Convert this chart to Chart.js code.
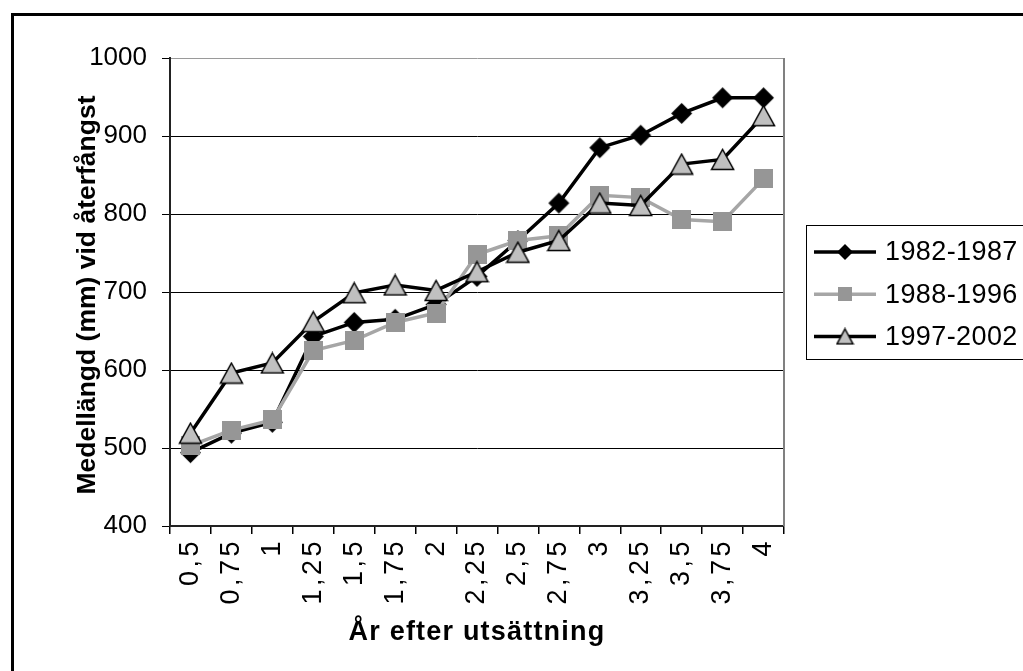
<!DOCTYPE html>
<html><head><meta charset="utf-8">
<script src="https://cdn.jsdelivr.net/npm/chart.js@4/dist/chart.umd.min.js"></script>
<style>html,body{margin:0;padding:0;background:#fff;overflow:hidden}#wrap{position:absolute;left:0;top:0;width:1023px;height:671px}</style>
</head><body><div id="wrap"><canvas id="c" width="1023" height="671"></canvas></div>
<script>
const categories = ['0,5','0,75','1','1,25','1,5','1,75','2','2,25','2,5','2,75','3','3,25','3,5','3,75','4'];
const seriesNames = ['1982-1987','1988-1996','1997-2002'];
const s1982 = [494,519,533,643,661,665,684,720,766,814,885,901,929,949,949];
const s1988 = [503,523,536,625,638,661,673,748,766,772,824,821,793,790,845];
const s1997 = [519,596,609,662,699,709,702,726,751,766,814,811,864,870,926];
const yMin = 400, yMax = 1000, yStep = 100;
const xTitle = 'År efter utsättning';
const yTitle = 'Medellängd (mm) vid återfångst';

const FONT = '"Liberation Sans", Arial, sans-serif';

function mk(w,h,fn){const c=document.createElement('canvas');c.width=w;c.height=h;fn(c.getContext('2d'),w,h);return c;}
function diamond(r){return mk(2*r+2,2*r+2,(g,w,h)=>{const cx=w/2,cy=h/2;g.beginPath();g.moveTo(cx,cy-r);g.lineTo(cx+r,cy);g.lineTo(cx,cy+r);g.lineTo(cx-r,cy);g.closePath();g.fillStyle='#000';g.fill();});}
function square(s){return mk(s,s,(g,w,h)=>{g.fillStyle='#969696';g.fillRect(0,0,s,s);});}
function triangle(w0,h0){return mk(w0+3,h0+3,(g,w,h)=>{g.beginPath();g.moveTo(w/2,1.5);g.lineTo(w-1.5,h-1.5);g.lineTo(1.5,h-1.5);g.closePath();g.fillStyle='#c0c0c0';g.fill();g.lineWidth=1.5;g.strokeStyle='#000';g.lineJoin='miter';g.stroke();});}

const mDia = diamond(10.5), mSq = square(19), mTri = triangle(22,20);
const lDia = diamond(8), lSq = square(14), lTri = triangle(16,15);

const styles = [
  {color:'#000', width:3.5, marker:mDia, legend:lDia},
  {color:'#a6a6a6', width:3.5, marker:mSq, legend:lSq},
  {color:'#000', width:3.5, marker:mTri, legend:lTri}
];
const values = [s1982, s1988, s1997];

const decor = {
  id:'decor',
  beforeDatasetsDraw(chart){
    const {ctx, chartArea:a} = chart;
    ctx.save();
    ctx.strokeStyle='#808080'; ctx.lineWidth=2;
    ctx.beginPath(); ctx.moveTo(a.right, a.top); ctx.lineTo(a.right, a.bottom); ctx.stroke();
    ctx.restore();
  },
  afterDraw(chart){
    const {ctx, chartArea:a} = chart;
    ctx.save();
    // outer frame
    ctx.strokeStyle='#000'; ctx.lineWidth=3;
    ctx.beginPath(); ctx.moveTo(12.5, 700); ctx.lineTo(12.5, 14.5); ctx.lineTo(1100, 14.5); ctx.stroke();
    // axis titles
    ctx.fillStyle='#000';
    ctx.font = 'bold 26.5px ' + FONT;
    ctx.textAlign='center'; ctx.textBaseline='middle';
    ctx.save(); ctx.translate(88, (a.top+a.bottom)/2 + 3); ctx.rotate(-Math.PI/2); ctx.fillText(yTitle,0,0); ctx.restore();
    ctx.font = 'bold 27px ' + FONT;
    ctx.letterSpacing = '1.2px';
    ctx.fillText(xTitle, (a.left+a.right)/2, 633);
    ctx.letterSpacing = '0px';
    // legend
    ctx.strokeStyle='#000'; ctx.lineWidth=1;
    ctx.strokeRect(806.5, 225.5, 400, 134);
    ctx.font = '27px ' + FONT; ctx.textAlign='left';
    for (let i=0;i<3;i++){
      const y = 252 + i*42.2;
      const st = styles[i];
      ctx.strokeStyle = st.color; ctx.lineWidth = st.width;
      ctx.beginPath(); ctx.moveTo(814, y); ctx.lineTo(876, y); ctx.stroke();
      const m = st.legend;
      ctx.drawImage(m, 845 - m.width/2, y - m.height/2);
      ctx.fillStyle='#000';
      ctx.letterSpacing = '0.4px';
      ctx.fillText(seriesNames[i], 885, y+1);
      ctx.letterSpacing = '0px';
    }
    ctx.restore();
  }
};

const chart = new Chart(document.getElementById('c'), {
  type:'line',
  data:{
    labels: categories,
    datasets: values.map((v,i)=>({
      label: seriesNames[i], data: v,
      borderColor: styles[i].color, borderWidth: styles[i].width,
      pointStyle: styles[i].marker, pointRadius: 10, pointHoverRadius: 10,
      tension: 0, fill:false, order: 3-i
    }))
  },
  options:{
    responsive:false, animation:false, devicePixelRatio:1,
    layout:{padding:{top:58,right:239,left:0,bottom:0}},
    plugins:{legend:{display:false}, tooltip:{enabled:false}, title:{display:false}},
    scales:{
      x:{
        offset:true,
        grid:{offset:true, drawOnChartArea:false, drawTicks:true, tickLength:8, color:'#000', lineWidth:1.5},
        border:{display:true, color:'#222', width:2},
        ticks:{autoSkip:false, maxRotation:90, minRotation:90, padding:4, color:'#000', font:{family:FONT, size:27}},
        afterFit(s){ s.height = 145; }
      },
      y:{
        min:yMin, max:yMax,
        grid:{color:(c)=> c.tick && c.tick.value===yMax ? '#9a9a9a' : '#000', tickColor:'#000', lineWidth:1, tickLength:8},
        border:{display:true, color:'#222', width:2},
        ticks:{stepSize:yStep, padding:15, color:'#000', font:{family:FONT, size:26}, callback:(v)=>String(v)},
        afterFit(s){ s.width = 170; }
      }
    }
  },
  plugins:[decor]
});
const xs = chart.scales.x;
const origDL = xs.drawLabels.bind(xs);
xs.drawLabels = function(area){ const g=this.ctx; g.save(); g.letterSpacing='3.5px'; origDL(area); g.restore(); };
chart.draw();
</script></body></html>
